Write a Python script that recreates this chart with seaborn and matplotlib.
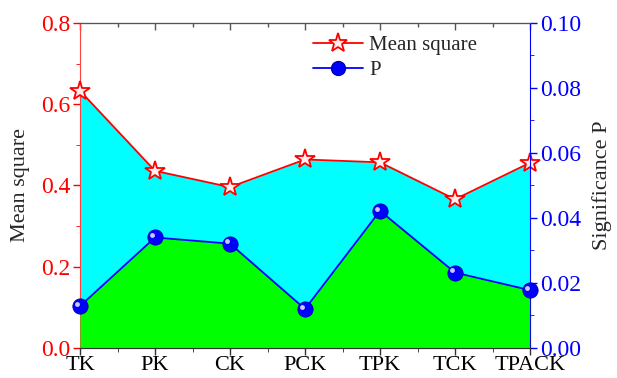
import numpy as np
import pandas as pd
import seaborn as sns
import matplotlib.pyplot as plt
from matplotlib.ticker import MultipleLocator
from matplotlib.lines import Line2D

# data
categories = ["TK", "PK", "CK", "PCK", "TPK", "TCK", "TPACK"]
mean_square = [0.633, 0.436, 0.396, 0.464, 0.457, 0.366, 0.456]
p_value = [0.0129, 0.0340, 0.0321, 0.0120, 0.0422, 0.0232, 0.0178]

sns.set_style("ticks")
plt.rcParams["font.family"] = ["Liberation Serif", "DejaVu Serif"]
plt.rcParams["mathtext.fontset"] = "stix"

df = pd.DataFrame({"cat": categories, "ms": mean_square, "p": p_value})
x = np.arange(len(categories))

fig = plt.figure(figsize=(6.17, 3.78), dpi=100)
ax1 = fig.add_axes([0.1297, 0.0794, 0.7293, 0.8598])
ax2 = ax1.twinx()

red, blue = "#ff0000", "#0000ff"

# filled areas
ax1.fill_between(x, 0, df["ms"], color="#00ffff", lw=0, zorder=1)
ax2.fill_between(x, 0, df["p"], color="#00ff00", lw=0, zorder=1)

sns.lineplot(data=df, x="cat", y="ms", ax=ax1, color=red, lw=1.3, sort=False,
             marker="*", markersize=15, markerfacecolor="#fff0f0",
             markeredgecolor=red, markeredgewidth=1.3, zorder=3, clip_on=False)
sns.lineplot(data=df, x="cat", y="p", ax=ax2, color=blue, lw=1.3, sort=False,
             marker="o", markersize=11, markerfacecolor=blue,
             markeredgecolor="#0000aa", markeredgewidth=0.6, zorder=3, clip_on=False)
# small highlight on the spheres
ax2.plot(x - 0.04, df["p"] + 0.0007, ls="none", marker="o", markersize=3.5,
         color="#c8c8ff", mew=0, zorder=4, clip_on=False)

ax1.set_xlim(0, 6)
ax1.set_ylim(0, 0.8)
ax2.set_ylim(0, 0.10)

ax1.yaxis.set_major_locator(MultipleLocator(0.2))
ax1.yaxis.set_minor_locator(MultipleLocator(0.1))
ax2.yaxis.set_major_locator(MultipleLocator(0.02))
ax2.yaxis.set_minor_locator(MultipleLocator(0.01))
ax1.xaxis.set_minor_locator(MultipleLocator(0.5))
ax1.yaxis.set_major_formatter(plt.FuncFormatter(lambda v, _: f"{v:.1f}"))
ax2.yaxis.set_major_formatter(plt.FuncFormatter(lambda v, _: f"{v:.2f}"))
ax1.set_xticks(x)
ax1.set_xticklabels(categories)

fs = 17
ax1.tick_params(axis="y", colors=red, labelsize=fs, length=5, width=1, direction="out", pad=2)
ax1.tick_params(axis="y", which="minor", colors=red, length=3)
ax2.tick_params(axis="y", colors=blue, labelsize=fs, length=5, width=1, direction="out", pad=2)
ax2.tick_params(axis="y", which="minor", colors=blue, length=3)
ax1.tick_params(axis="x", labelsize=16, length=5, width=1, direction="out",
                colors="#333333", labelcolor="black", pad=1)
ax1.tick_params(axis="x", which="minor", length=3, direction="out")

# inward ticks along the top edge
top = ax1.secondary_xaxis("top")
top.set_xticks(x)
top.xaxis.set_minor_locator(MultipleLocator(0.5))
top.tick_params(axis="x", which="both", direction="in", labeltop=False,
                colors="#555555", width=1)
top.tick_params(axis="x", which="major", length=5)
top.tick_params(axis="x", which="minor", length=3)
top.spines["top"].set_color("#555555")

ax1.set_xlabel("")
ax1.set_ylabel("Mean square", fontsize=16, labelpad=8)
ax2.set_ylabel("Significance P", fontsize=16, labelpad=8)

ax1.spines["left"].set_color("#ff4040")
ax1.spines["right"].set_visible(False)
ax2.spines["left"].set_visible(False)
ax2.spines["right"].set_color(blue)
for ax in (ax1, ax2):
    ax.spines["top"].set_color("#555555")
    ax.spines["bottom"].set_color("#333333")
    ax.set_facecolor("none")

handles = [
    Line2D([], [], color=red, lw=1.3, marker="*", markersize=14,
           markerfacecolor="#fff0f0", markeredgecolor=red, markeredgewidth=1.3),
    Line2D([], [], color=blue, lw=1.3, marker="o", markersize=10,
           markerfacecolor=blue, markeredgecolor="#0000aa"),
]
ax2.legend(handles, ["Mean square", "P"], loc="upper left",
           bbox_to_anchor=(0.49, 1.0), frameon=False, fontsize=15,
           handlelength=2.4, handletextpad=0.3, labelspacing=0.25,
           borderaxespad=0.2)

fig.savefig("out.png", dpi=100)
